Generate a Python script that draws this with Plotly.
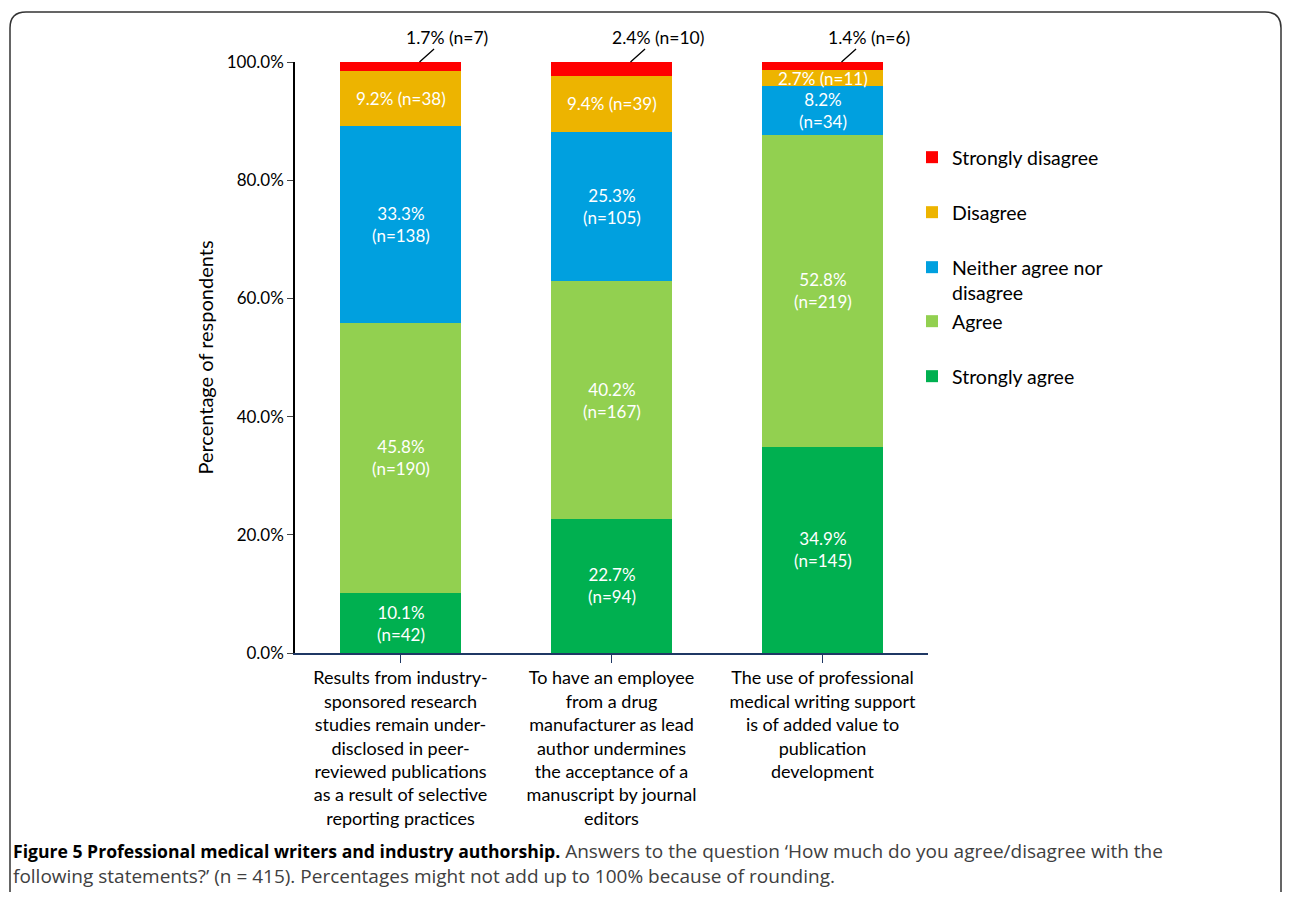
import plotly.graph_objects as go

categories = [
    "Results from industry-<br>sponsored research<br>studies remain under-<br>disclosed in peer-<br>reviewed publications<br>as a result of selective<br>reporting practices",
    "To have an employee<br>from a drug<br>manufacturer as lead<br>author undermines<br>the acceptance of a<br>manuscript by journal<br>editors",
    "The use of professional<br>medical writing support<br>is of added value to<br>publication<br>development",
]
series_names = ["Strongly agree", "Agree", "Neither agree nor<br>disagree", "Disagree", "Strongly disagree"]
strongly_agree = [10.1, 22.7, 34.9]
agree = [45.8, 40.2, 52.8]
neither = [33.3, 25.3, 8.2]
disagree = [9.2, 9.4, 2.7]
strongly_disagree = [1.7, 2.4, 1.4]
n_strongly_agree = [42, 94, 145]
n_agree = [190, 167, 219]
n_neither = [138, 105, 34]
n_disagree = [38, 39, 11]
n_strongly_disagree = [7, 10, 6]
y_ticks = [0, 20, 40, 60, 80, 100]
y_tick_labels = ["0.0%", "20.0%", "40.0%", "60.0%", "80.0%", "100.0%"]

colors = ["#00B050", "#92D050", "#00A0DF", "#EDB400", "#FF0000"]
values = [strongly_agree, agree, neither, disagree, strongly_disagree]
counts = [n_strongly_agree, n_agree, n_neither, n_disagree, n_strongly_disagree]

FONT = "Lato"
CAP_FONT = "Open Sans"
OFF = 8  # page body margin
W, H = 1290 - 2 * OFF, 900 - 2 * OFF
# plot area in page pixels
PL, PR, PT, PB = 295, 928, 62, 653

def px(x):
    return (x - PL) / (PR - PL)

def py(y):
    return (PB - y) / (PB - PT)

fig = go.Figure()
legend_tops = [376, 321, 267, 212, 157]
for i, (name, vals, col) in enumerate(zip(series_names, values, colors)):
    lg = "legend" if i == 0 else f"legend{i+1}"
    fig.add_trace(go.Bar(
        x=list(range(len(categories))), y=vals, name=name,
        marker=dict(color=col, line=dict(width=0)),
        width=0.57, legend=lg, hoverinfo="skip",
    ))

annotations = []
for ci in range(len(categories)):
    base = 0.0
    for si in range(4):
        v = values[si][ci]
        n = counts[si][ci]
        mid = base + v / 2
        if si == 3 or (v < 10 and si != 2):
            txt = f"{v:.1f}% (n={n})"
        else:
            txt = f"{v:.1f}%<br>(n={n})"
        annotations.append(dict(
            x=ci, y=mid, xref="x", yref="y", text=txt, showarrow=False,
            font=dict(family=FONT, size=17, color="white"),
        ))
        base += v
    v = values[4][ci]
    n = counts[4][ci]
    annotations.append(dict(
        x=ci + 0.09, y=min(base + v, 100.0), xref="x", yref="y",
        text=f"{v:.1f}% (n={n})", showarrow=True, arrowhead=0, arrowwidth=1.3,
        arrowcolor="black", ax=28, ay=-25,
        font=dict(family=FONT, size=17.5, color="black"),
    ))

annotations.append(dict(
    x=px(11), y=py(891), xref="paper", yref="paper", xanchor="left", yanchor="bottom",
    align="left", showarrow=False,
    text=("<b><span style='font-size:17.6px;color:black'>Figure 5 Professional medical writers and industry authorship.</span></b>"
          " Answers to the question ‘How much do you agree/disagree with the<br>"
          "following statements?’ (n = 415). Percentages might not add up to 100% because of rounding."),
    font=dict(family=CAP_FONT, size=19, color="#404040"),
))

x0, x1, y0, y1, r = 10, 1281, 12, 910, 16
path = (f"M {px(x0)},{py(y1)} L {px(x0)},{py(y0 + r)} Q {px(x0)},{py(y0)} {px(x0 + r)},{py(y0)} "
        f"L {px(x1 - r)},{py(y0)} Q {px(x1)},{py(y0)} {px(x1)},{py(y0 + r)} L {px(x1)},{py(y1)}")
shapes = [dict(type="path", xref="paper", yref="paper", path=path,
               line=dict(color="#333333", width=1.5), layer="below")]

layout_legends = {}
for i in range(5):
    key = "legend" if i == 0 else f"legend{i+1}"
    layout_legends[key] = dict(
        x=px(912), y=py(legend_tops[i] - 19), xanchor="left", yanchor="top",
        font=dict(family=FONT, size=19.5, color="black"), valign="top",
        bgcolor="rgba(0,0,0,0)", itemclick=False, itemdoubleclick=False,
    )

fig.update_layout(
    width=W, height=H,
    margin=dict(l=PL - OFF, r=W - (PR - OFF), t=PT - OFF, b=H - (PB - OFF), autoexpand=False),
    barmode="stack",
    paper_bgcolor="white", plot_bgcolor="white",
    font=dict(family=FONT, size=17, color="black"),
    showlegend=True,
    annotations=annotations, shapes=shapes,
    **layout_legends,
)
fig.update_xaxes(
    tickmode="array", tickvals=list(range(len(categories))), ticktext=categories,
    range=[-0.5, 2.5], showline=True, linecolor="#1F3864", linewidth=1.5,
    ticks="outside", tickson="boundaries", ticklen=8, tickcolor="#1F3864",
    tickfont=dict(family=FONT, size=18, color="black"), showgrid=False, zeroline=False,
)
fig.update_yaxes(
    range=[0, 100], tickmode="array", tickvals=y_ticks, ticktext=y_tick_labels,
    showline=True, linecolor="black", linewidth=1.5, ticks="outside", ticklen=6,
    tickfont=dict(family=FONT, size=17, color="black"), showgrid=False, zeroline=False,
    title=dict(text="Percentage of respondents", font=dict(family=FONT, size=20, color="black"), standoff=8),
)

fig.write_html("out.html")
